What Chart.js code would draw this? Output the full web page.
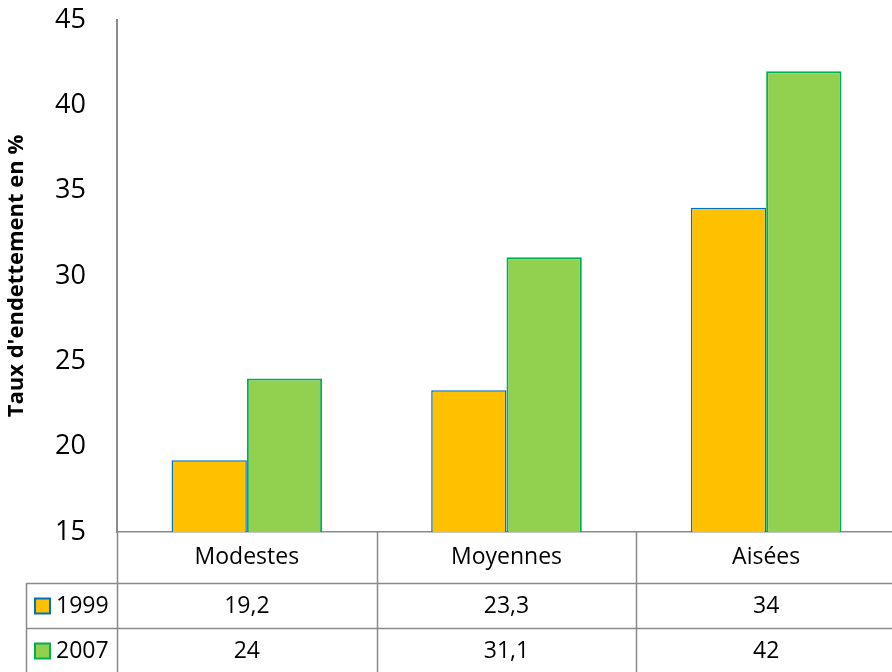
<!DOCTYPE html>
<html lang="fr">
<head>
<meta charset="utf-8">
<title>Taux d'endettement</title>
<script src="https://cdn.jsdelivr.net/npm/chart.js@4.4.1/dist/chart.umd.min.js"></script>
<style>
  html, body { margin: 0; padding: 0; background: #ffffff; overflow: hidden; }
  /* la zone de tracé déborde légèrement du cadre à droite */
  #wrap { width: 892px; height: 672px; position: relative; overflow: hidden; }
  #chart { display: block; }
</style>
</head>
<body>
<div id="wrap"><canvas id="chart" width="896" height="672"></canvas></div>
<script>
// Catégories de ménages et taux d'endettement (%)
const categories = ['Modestes', 'Moyennes', 'Aisées'];
const seriesNames = ['1999', '2007'];
const values1999 = [19.2, 23.3, 34];
const values2007 = [24, 31.1, 42];
const yTicks = [15, 20, 25, 30, 35, 40, 45];

const FONT = "'Open Sans', 'DejaVu Sans', sans-serif";
const GRID = '#8a8a8a';
const fills = ['#FFC000', '#92D050'];
const borders = ['#0070C0', '#00B050'];
const seriesValues = [values1999, values2007];

const fmt = v => String(v).replace('.', ',');

// Tableau de données sous l'axe des catégories
const dataTable = {
  id: 'dataTable',
  afterDraw(chart) {
    const { ctx, chartArea } = chart;
    const x = chart.scales.x;
    const top = chartArea.bottom;
    const headerH = 51, rowH = 45;
    const rowTops = [top + headerH, top + headerH + rowH];
    const legendLeft = 26;
    const right = chart.width;
    const colW = (x.right - x.left) / categories.length;

    ctx.save();
    ctx.strokeStyle = GRID;
    ctx.lineWidth = 1.5;
    ctx.beginPath();
    // séparateurs de colonnes
    for (let i = 0; i <= categories.length; i++) {
      const cx = Math.round(x.left + i * colW) + 0.5;
      ctx.moveTo(cx, top);
      ctx.lineTo(cx, chart.height);
    }
    // lignes horizontales des séries
    rowTops.forEach(ry => {
      ctx.moveTo(legendLeft, ry + 0.5);
      ctx.lineTo(right, ry + 0.5);
    });
    ctx.moveTo(legendLeft + 0.5, rowTops[0]);
    ctx.lineTo(legendLeft + 0.5, chart.height);
    ctx.stroke();

    ctx.font = '23px ' + FONT;
    ctx.textBaseline = 'middle';
    seriesValues.forEach((vals, s) => {
      const cy = rowTops[s] + rowH / 2;
      // clé de légende
      ctx.fillStyle = fills[s];
      ctx.fillRect(35, cy - 7, 15, 15);
      ctx.strokeStyle = borders[s];
      ctx.lineWidth = 2;
      ctx.strokeRect(35, cy - 7, 15, 15);
      ctx.fillStyle = '#000000';
      ctx.textAlign = 'left';
      ctx.fillText(seriesNames[s], 56, cy + 1);
      ctx.textAlign = 'center';
      vals.forEach((v, i) => {
        ctx.fillText(fmt(v), x.getPixelForValue(i), cy + 1);
      });
    });
    ctx.restore();
  }
};

new Chart(document.getElementById('chart'), {
  type: 'bar',
  data: {
    labels: categories,
    datasets: [
      {
        label: seriesNames[0],
        data: values1999,
        backgroundColor: fills[0],
        borderColor: borders[0],
        borderWidth: 1.5,
        categoryPercentage: 0.58,
        barPercentage: 1.0
      },
      {
        label: seriesNames[1],
        data: values2007,
        backgroundColor: fills[1],
        borderColor: borders[1],
        borderWidth: 2,
        categoryPercentage: 0.58,
        barPercentage: 1.0
      }
    ]
  },
  options: {
    responsive: false,
    animation: false,
    layout: { padding: { top: 20, right: 0, left: 0, bottom: 0 } },
    plugins: {
      legend: { display: false },
      tooltip: { enabled: false }
    },
    scales: {
      x: {
        grid: { display: false, drawTicks: false },
        border: { display: true, color: GRID, width: 1.5 },
        ticks: {
          color: '#000000',
          font: { family: FONT, size: 23 },
          padding: 12
        },
        afterFit(scale) {
          scale.height = 140;
          scale.paddingLeft = 0;
          scale.paddingRight = 0;
        }
      },
      y: {
        min: yTicks[0],
        max: yTicks[yTicks.length - 1],
        afterBuildTicks(scale) { scale.ticks = yTicks.map(v => ({ value: v })); },
        grid: { display: false, drawTicks: false },
        border: { display: true, color: GRID, width: 2 },
        ticks: {
          color: '#000000',
          font: { family: FONT, size: 27 },
          padding: 31
        },
        title: {
          display: true,
          text: "Taux d'endettement en %",
          color: '#000000',
          font: { family: FONT, size: 22, weight: 'bold' },
          padding: { top: 4, bottom: 0 }
        },
        afterFit(scale) {
          scale.width = 117;
          scale.paddingTop = 0;
          scale.paddingBottom = 0;
        }
      }
    }
  },
  plugins: [dataTable]
});
</script>
</body>
</html>
